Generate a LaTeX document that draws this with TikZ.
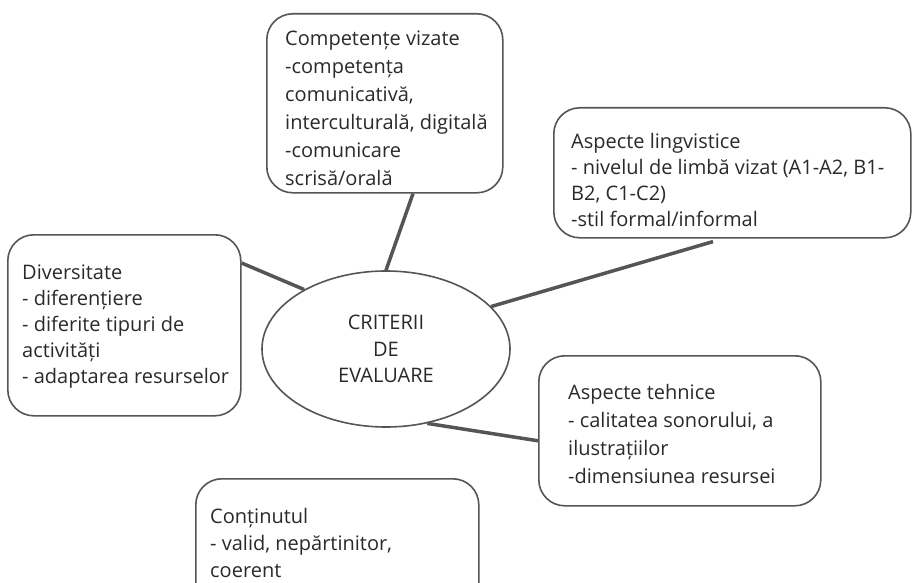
\documentclass[tikz,border=0pt]{standalone}
\usepackage{fontspec}
\setmainfont{Open Sans}
\usetikzlibrary{shapes.geometric,calc}
\definecolor{txtc}{HTML}{2A2A2A}
\definecolor{edgec}{HTML}{555555}
\begin{document}
\begin{tikzpicture}[x=1pt,y=-1pt,
  box/.style={draw=edgec, line width=1.6pt, rounded corners=26pt, inner sep=0pt, anchor=north west},
  txt/.style={text=txtc, align=left, inner sep=0pt, anchor=north west},
  link/.style={draw=edgec, line width=3.5pt}]
\useasboundingbox (0,0) rectangle (912,583);
\clip (0,0) rectangle (912,583);
\fill[white] (0,0) rectangle (912,583);

% boxes
\node[box, minimum width=236pt, minimum height=179pt] (comp) at (266,13) {};
\node[box, minimum width=357pt, minimum height=130pt] (ling) at (553,107) {};
\node[box, minimum width=233pt, minimum height=181pt] (div) at (7,234) {};
\node[box, minimum width=282pt, minimum height=150pt] (tech) at (538,355) {};
\node[box, minimum width=283pt, minimum height=140pt] (cont) at (195,478) {};
\node[draw=edgec, line width=1.6pt, ellipse, inner sep=0pt, minimum width=248pt, minimum height=156pt,
      text=txtc, align=center, font=\fontsize{20}{26.5}\selectfont] (ell) at (386,349)
      {CRITERII\\DE\\EVALUARE};

% texts
\node[txt, font=\fontsize{20}{28}\selectfont] (comptxt) at (285,29)
  {\rule{0pt}{16pt}Competențe vizate\\-competența\\comunicativă,\\interculturală, digitală\\-comunicare\\scrisă/orală};
\node[txt, font=\fontsize{20}{26}\selectfont] (lingtxt) at (571,132)
  {\rule{0pt}{16pt}Aspecte lingvistice\\- nivelul de limbă vizat (A1-A2, B1-\\B2, C1-C2)\\-stil formal/informal};
\node[txt, font=\fontsize{20}{26}\selectfont] (divtxt) at (22,263)
  {\rule{0pt}{16pt}Diversitate\\- diferențiere\\- diferite tipuri de\\activități\\- adaptarea resurselor};
\node[txt, font=\fontsize{20}{28}\selectfont] (techtxt) at (568,383)
  {\rule{0pt}{16pt}Aspecte tehnice\\- calitatea sonorului, a\\ilustrațiilor\\-dimensiunea resursei};
\node[txt, font=\fontsize{20}{27}\selectfont] (conttxt) at (210,507)
  {\rule{0pt}{16pt}Conținutul\\- valid, nepărtinitor,\\coerent};

% connectors
\draw[link] ($(comp.south west)+(147,0)$) -- (ell.north);
\draw[link] ($(div.north east)+(0,29)$) -- (ell.144);
\draw[link] ($(ling.south west)+(160,3)$) -- (ell.22);
\draw[link] (ell.-61) -- ($(tech.west)+(0,10)$);
\end{tikzpicture}
\end{document}
